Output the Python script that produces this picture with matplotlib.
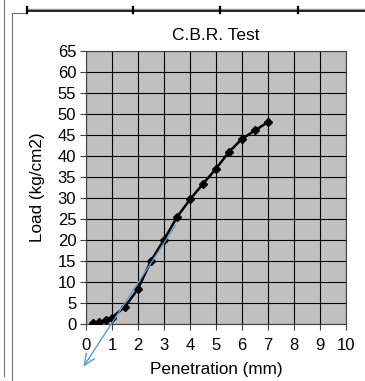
import matplotlib
matplotlib.use("Agg")
import matplotlib.pyplot as plt
from matplotlib.lines import Line2D

plt.rcParams['font.family'] = ['Liberation Sans', 'DejaVu Sans']

penetration = [0.25, 0.5, 0.75, 1.0, 1.5, 2.0, 2.5, 3.0, 3.5, 4.0, 4.5, 5.0, 5.5, 6.0, 6.5, 7.0]
load = [0.2, 0.5, 1.0, 1.6, 4.2, 8.4, 15.1, 20.1, 25.5, 29.7, 33.4, 37.0, 41.0, 44.1, 46.1, 48.1]
tangent_start = (3.45, 23.6)
tangent_end = (-0.1, -10.1)
x_ticks = list(range(0, 11))
y_ticks = list(range(0, 70, 5))

W, H = 365, 381
fig = plt.figure(figsize=(W / 100, H / 100), dpi=100)
fig.patch.set_facecolor('white')

ax = fig.add_axes([86 / W, (H - 324.3) / H, (346 - 86) / W, (324.3 - 51) / H])
ax.set_facecolor('#c0c0c0')
ax.plot(penetration, load, color='black', lw=1.8, marker='D', ms=4.2,
        markerfacecolor='black', markeredgecolor='black', zorder=3)
ax.annotate('', xy=tangent_end, xytext=tangent_start,
            arrowprops=dict(arrowstyle='->,head_length=0.8,head_width=0.35',
                            color='#5b9bd5', lw=1.0, shrinkA=0, shrinkB=0),
            annotation_clip=False, zorder=4)

ax.set_xlim(0, 10)
ax.set_ylim(0, 65)
ax.set_xticks(x_ticks)
ax.set_yticks(y_ticks)
ax.grid(True, color='black', lw=0.8)
ax.set_axisbelow(True)
for s in ax.spines.values():
    s.set_color('#404040')
    s.set_linewidth(0.8)
ax.tick_params(axis='both', direction='out', length=4, width=0.8, color='#404040',
               labelsize=12, pad=3)
ax.tick_params(axis='x', pad=6)
ax.set_title('C.B.R. Test', fontsize=12.5, pad=8)
ax.set_xlabel('Penetration (mm)', fontsize=12.3, labelpad=6)
ax.set_ylabel('Load (kg/cm2)', fontsize=12.3, labelpad=9)

# screenshot frame decorations
def fl(x0, y0, x1, y1, **kw):
    fig.add_artist(Line2D([x0 / W, x1 / W], [1 - y0 / H, 1 - y1 / H], transform=fig.transFigure, **kw))

fl(4, 0, 4, 376, color='#707070', lw=0.8)
fl(11.7, 13.3, 11.7, 381, color='#707070', lw=0.8)
fl(11.7, 13.3, 27, 13.3, color='#707070', lw=0.8)
fl(27, 9, 365, 9, color='#909090', lw=1.0)
fl(27, 11, 365, 11, color='black', lw=1.2)
for tx in [27, 133, 220, 298]:
    fl(tx, 6.5, tx, 13, color='black', lw=1.6)

fig.savefig('out.png', dpi=100)
